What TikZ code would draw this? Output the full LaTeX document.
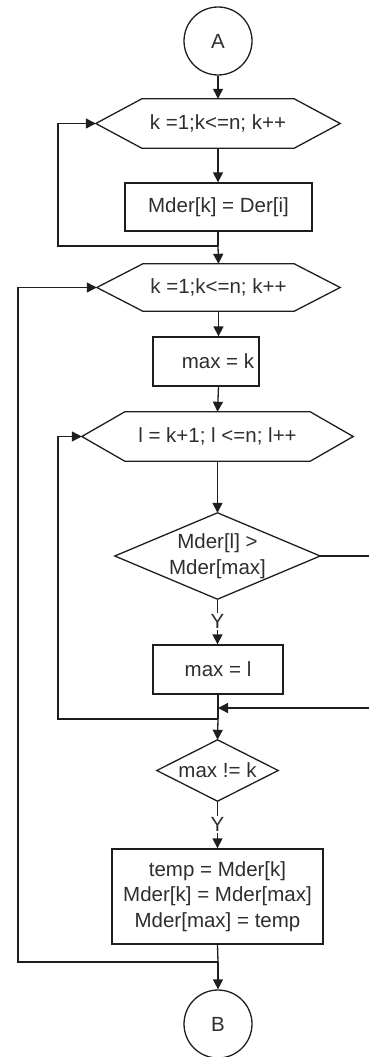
\documentclass[tikz,border=0pt]{standalone}
\usepackage{fontspec}
\setmainfont{Liberation Sans}
\usetikzlibrary{arrows.meta}
\definecolor{linecol}{HTML}{1E1E1E}
\definecolor{txtcol}{HTML}{2E2E2E}
% outline of a hexagonal loop box around a named node
\newcommand\hexoutline[2]{\draw[flow] (#1.west) -- ([xshift=#2]#1.north west) -- ([xshift=-#2]#1.north east) -- (#1.east) -- ([xshift=-#2]#1.south east) -- ([xshift=#2]#1.south west) -- cycle;}
% outline of a decision diamond around a named node
\newcommand\diaoutline[1]{\draw[flow] (#1.north) -- (#1.east) -- (#1.south) -- (#1.west) -- cycle;}
\tikzset{
  flow/.style={line width=1.3pt, draw=linecol, line join=miter},
  arr/.style={flow, -{Triangle[length=10pt,width=10pt]}},
  txt/.style={inner sep=0pt, align=center, text=txtcol, font=\fontsize{20.5}{25.5}\selectfont},
  box/.style={txt, draw=linecol, line width=1.3pt},
  conn/.style={box, circle, minimum size=68pt},
  ylabel/.style={txt, fill=white, inner sep=1.5pt},
}
\begin{document}
\begin{tikzpicture}[x=1pt, y=-1pt]
\useasboundingbox (0,0) rectangle (369,1057);

% blocks
\node[conn] (A) at (218,41) {A};
\node[txt, minimum width=244pt, minimum height=49pt] (h1) at (218,123.5) {k =1;k<=n; k++};
\node[box, minimum width=187pt, minimum height=48pt] (r1) at (218.5,207) {Mder[k] = Der[i]};
\node[txt, minimum width=243pt, minimum height=47pt] (h2) at (218.5,287.5) {k =1;k<=n; k++};
\node[box, minimum width=106pt, minimum height=49pt] (r2) at (206,361.5) {\hspace*{24pt}max = k};
\node[txt, minimum width=271pt, minimum height=49pt] (h3) at (217.5,436.5) {l = k+1; l <=n; l++};
\node[txt, minimum width=205pt, minimum height=86pt] (d1) at (217.5,556) {Mder[l] >\\Mder[max]};
\node[box, minimum width=130pt, minimum height=49pt] (r3) at (218,669.5) {max = l};
\node[txt, minimum width=121pt, minimum height=61pt] (d2) at (217.5,770.5) {max != k};
\node[box, minimum width=211pt, minimum height=95pt] (r4) at (217.5,896.5) {temp = Mder[k]\\Mder[k] = Mder[max]\\Mder[max] = temp};
\node[conn] (B) at (218,1024) {B};

\hexoutline{h1}{46}
\hexoutline{h2}{46}
\hexoutline{h3}{43}
\diaoutline{d1}
\diaoutline{d2}

% junction points on the main line
\coordinate (j1) at (218,246);
\coordinate (j2) at (218,708);
\coordinate (j3) at (218,719);
\coordinate (j4) at (218,962);
\coordinate (c1) at (58,246);
\coordinate (c2) at (18,962);
\coordinate (c3) at (58,719);
\coordinate (e1) at (373,556);
\coordinate (e2) at (373,708);

% main flow
\draw[arr] (A) -- (h1);
\draw[arr] (h1) -- (r1.north -| h1.south);
\draw[flow] (r1.south -| h1.south) -- (j1);
\draw[arr] (j1) -- (h2.north);
\draw[arr] (h2.south) -- (h2.south |- r2.north);
\draw[arr] (h2.south |- r2.south) -- (h3.north);
\draw[arr] (h3.south) -- (h3.south |- d1.north);
\draw[arr] (d1.south) -- node[ylabel] {Y} (d1.south |- r3.north);
\draw[flow] (r3.south) -- (j3);
\draw[arr] (j3) -- (d2.north);
\draw[arr] (d2.south) -- node[ylabel] {Y} (d2.south |- r4.north);
\draw[flow] (r4.south) -- (j4);
\draw[arr] (j4) -- (B);

% loop returns
\draw[arr] (j1) -- (c1) |- (h1.west);
\draw[arr] (j4) -- (c2) |- (h2.west);
\draw[arr] (j3) -- (c3) |- (h3.west);
\draw[arr] (d1.east) -- (e1) -- (e2) -- (j2);
\end{tikzpicture}
\end{document}
